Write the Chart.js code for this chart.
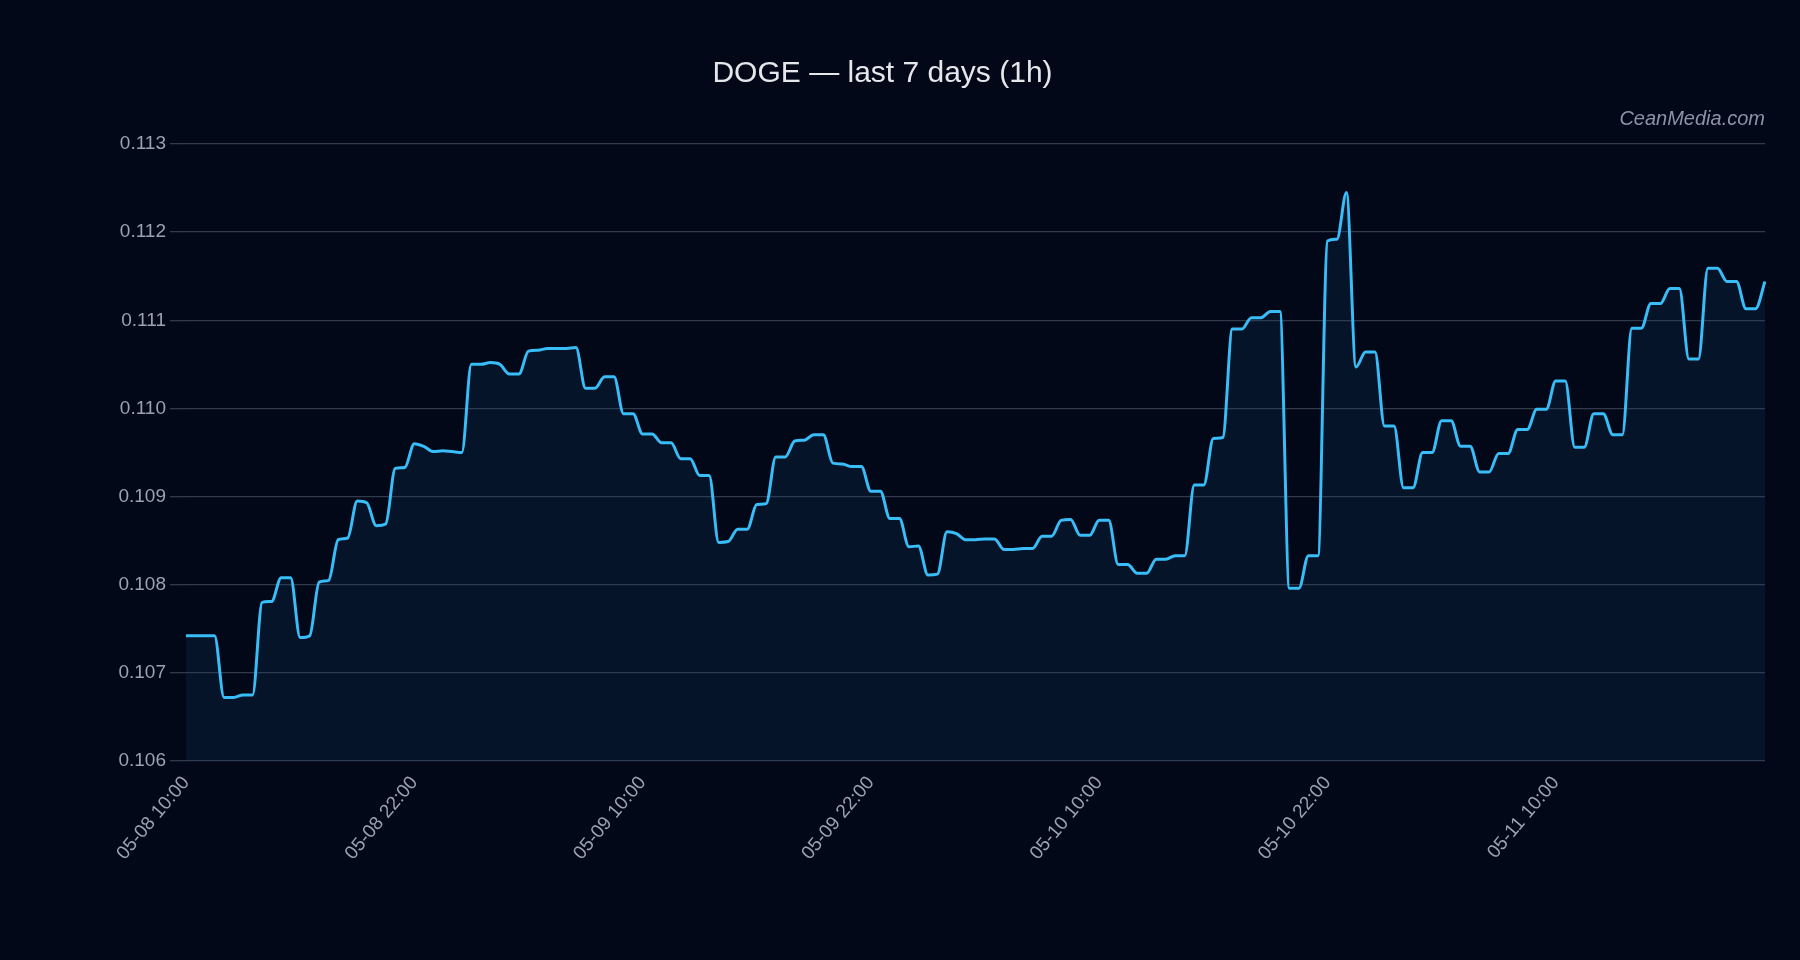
<!DOCTYPE html>
<html><head><meta charset="utf-8">
<script src="https://cdn.jsdelivr.net/npm/chart.js@4"></script>
<style>html,body{margin:0;background:#020817;}#w{width:1800px;height:960px;}</style>
</head><body><div id="w"><canvas id="c"></canvas></div>
<script>
const startLabel = "05-08 10:00";
const tickLabels = ["05-08 10:00","05-08 22:00","05-09 10:00","05-09 22:00","05-10 10:00","05-10 22:00","05-11 10:00"];
const prices = [
0.10742,0.10742,0.10742,0.10742,0.10672,0.10672,0.10675,0.10675,0.10780,0.10781,
0.10808,0.10808,0.10740,0.10742,0.10803,0.10805,0.10851,0.10853,0.10895,0.10893,
0.10867,0.10869,0.10932,0.10933,0.10960,0.10957,0.10951,0.10952,0.10951,0.10950,
0.11050,0.11050,0.11052,0.11050,0.11039,0.11039,0.11065,0.11066,0.11068,0.11068,
0.11068,0.11069,0.11023,0.11023,0.11036,0.11036,0.10994,0.10994,0.10971,0.10971,
0.10961,0.10961,0.10943,0.10943,0.10924,0.10924,0.10848,0.10849,0.10863,0.10863,
0.10891,0.10892,0.10945,0.10945,0.10963,0.10964,0.10970,0.10970,0.10938,0.10937,
0.10934,0.10934,0.10906,0.10906,0.10875,0.10875,0.10843,0.10844,0.10811,0.10812,
0.10860,0.10858,0.10851,0.10851,0.10852,0.10852,0.10840,0.10840,0.10841,0.10841,
0.10855,0.10855,0.10873,0.10874,0.10856,0.10856,0.10873,0.10873,0.10823,0.10823,
0.10813,0.10813,0.10829,0.10829,0.10833,0.10833,0.10913,0.10913,0.10966,0.10967,
0.11090,0.11090,0.11103,0.11103,0.11110,0.11110,0.10796,0.10796,0.10833,0.10833,
0.11190,0.11192,0.11245,0.11047,0.11064,0.11064,0.10980,0.10980,0.10910,0.10910,
0.10950,0.10950,0.10986,0.10986,0.10957,0.10957,0.10928,0.10928,0.10949,0.10949,
0.10976,0.10976,0.10999,0.10999,0.11031,0.11031,0.10956,0.10956,0.10994,0.10994,
0.10970,0.10970,0.11091,0.11091,0.11119,0.11119,0.11136,0.11136,0.11056,0.11056,
0.11159,0.11159,0.11144,0.11144,0.11113,0.11113,0.11144];
// half-hour step labels
const labels = prices.map((_, i) => {
  const d = new Date(Date.UTC(2024,4,8,10,0) + i*30*60000);
  const p = n => String(n).padStart(2,'0');
  return p(d.getUTCMonth()+1)+'-'+p(d.getUTCDate())+' '+p(d.getUTCHours())+':'+p(d.getUTCMinutes());
});
const yTicks = [0.106,0.107,0.108,0.109,0.110,0.111,0.112,0.113];

const watermark = {id:'wm', afterDraw(ch){const c=ch.ctx; c.save(); c.font='italic 20px "Liberation Sans", Arial'; c.fillStyle='#8a94a6'; c.textAlign='right'; c.textBaseline='middle'; c.fillText('CeanMedia.com', ch.chartArea.right, 119); c.restore();}};
const bg = {id:'bg', beforeDraw(ch){const c=ch.ctx; c.save(); c.fillStyle='#020817'; c.fillRect(0,0,ch.width,ch.height); c.restore();}};

new Chart(document.getElementById('c'), {
  type:'line',
  data:{labels, datasets:[{data:prices, borderColor:'#38bdf8', borderWidth:3, pointRadius:0,
    cubicInterpolationMode:'monotone', fill:'start', backgroundColor:'rgba(30,80,130,0.18)'}]},
  options:{responsive:true, maintainAspectRatio:false, animation:false,
    layout:{padding:{left:0,right:35,top:0,bottom:0}},
    plugins:{legend:{display:false}, tooltip:{enabled:false},
      title:{display:true, text:'DOGE — last 7 days (1h)', color:'#e5e7eb', font:{family:'"Liberation Sans", Arial', size:30, weight:'normal'}, padding:{top:56,bottom:52}}},
    scales:{
      x:{grid:{display:false}, border:{display:false},
        ticks:{color:'#9aa3b2', font:{family:'"Liberation Sans", Arial', size:19}, maxRotation:50, minRotation:50, autoSkip:false,
          callback:(v,i)=> tickLabels.includes(labels[i]) ? labels[i] : null},
        afterFit:s=>{s.height=199;}},
      y:{min:0.106, max:0.113, border:{display:false},
        afterBuildTicks:s=>{s.ticks=yTicks.map(v=>({value:v}));},
        grid:{color:'rgba(148,163,184,0.32)', lineWidth:1.3, tickLength:16},
        ticks:{color:'#9aa3b2', font:{family:'"Liberation Sans", Arial', size:19}, padding:4, callback:v=>v.toFixed(3)},
        afterFit:s=>{s.width=186;}}
    }},
  plugins:[bg, watermark]
});
</script></body></html>
